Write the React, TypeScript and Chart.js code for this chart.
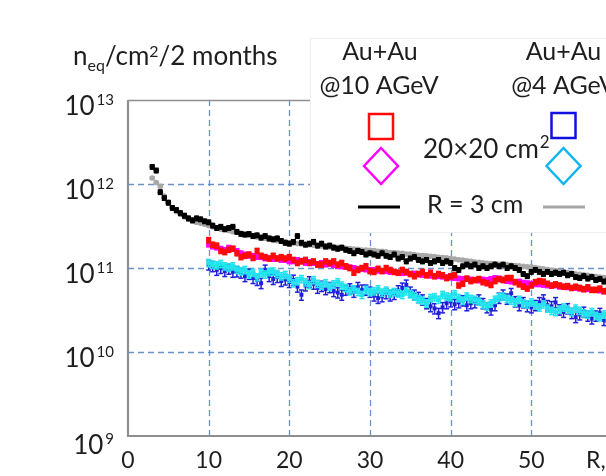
import { useEffect, useRef } from 'react';
import { Chart, registerables } from 'chart.js';

Chart.register(...registerables);

// Radius R (cm) of the 0.5 cm bins
const RADII_CORE = [
  3, 3.5, 4, 4.5, 5, 5.5, 6, 6.5, 7, 7.5,
  8, 8.5, 9, 9.5, 10, 10.5, 11, 11.5, 12, 12.5,
  13, 13.5, 14, 14.5, 15, 15.5, 16, 16.5, 17, 17.5,
  18, 18.5, 19, 19.5, 20, 20.5, 21, 21.5, 22, 22.5,
  23, 23.5, 24, 24.5, 25, 25.5, 26, 26.5, 27, 27.5,
  28, 28.5, 29, 29.5, 30, 30.5, 31, 31.5, 32, 32.5,
  33, 33.5, 34, 34.5, 35, 35.5, 36, 36.5, 37, 37.5,
  38, 38.5, 39, 39.5, 40, 40.5, 41, 41.5, 42, 42.5,
  43, 43.5, 44, 44.5, 45, 45.5, 46, 46.5, 47, 47.5,
  48, 48.5, 49, 49.5, 50, 50.5, 51, 51.5, 52, 52.5,
  53, 53.5, 54, 54.5, 55, 55.5, 56, 56.5, 57, 57.5,
  58, 58.5, 59, 59.5,
];
// 20x20 cm2 series start at R = 10 cm
const RADII_20 = RADII_CORE.slice(14);

// Fluence, in units of 1e10 n_eq/cm2/2 months
const CORE_10AGEV = [
  160, 145, 80, 68, 60, 52, 49, 45, 42, 39,
  37, 39, 38, 36, 35, 32, 30, 31, 29, 30,
  31, 27, 25.5, 25, 25.5, 24, 24.5, 23, 24, 22.5,
  22, 22.5, 21, 20, 19.5, 20.5, 24, 20, 19, 19.5,
  20.5, 18.5, 19.5, 18, 18.5, 17.5, 17, 17.5, 16.5, 16,
  15, 16, 15.5, 14.5, 15, 14.5, 14, 15, 14, 13.5,
  14.5, 13, 13.5, 12, 13, 13.5, 12.5, 12, 12.5, 11.5,
  12, 12.5, 11.5, 12, 11.5, 10, 9.5, 10.5, 11, 10.5,
  11, 10, 10.5, 10, 10.5, 11, 10.5, 11, 10, 10.5,
  10, 9.5, 8.5, 8, 9, 9.5, 9, 8.5, 9, 8.5,
  8.8, 8.5, 8.8, 8.2, 8.5, 7.8, 7.6, 8, 7.5, 7.8,
  7.2, 7.4, 6.9, 7.1,
];
const CORE_4AGEV = [
  118, 104, 94, 72, 60, 52, 47, 43.5, 40.5, 38,
  36, 35, 34, 33.2, 32, 31, 30.2, 29, 28.6, 28,
  27, 26.6, 26, 25, 24.6, 24, 23.4, 23, 22.6, 22,
  21.5, 21.2, 20.8, 20.5, 20.1, 19.8, 19.6, 19.3, 19, 18.9,
  18.7, 18.4, 18.3, 18.1, 17.8, 17.7, 17.6, 17.3, 17.2, 17,
  16.8, 16.7, 16.4, 16.4, 16.2, 16.1, 15.8, 15.8, 15.6, 15.3,
  15.3, 15.1, 15, 14.7, 14.7, 14.5, 14.2, 14.1, 14, 13.8,
  13.7, 13.4, 13.3, 13.2, 13, 12.8, 12.5, 12.4, 12.2, 12,
  11.8, 11.7, 11.5, 11.4, 11.3, 11.2, 11.1, 11, 10.9, 10.8,
  10.7, 10.6, 10.5, 10.3, 10.3, 10.1, 9.9, 9.8, 9.6, 9.4,
  9.3, 9.1, 9, 8.8, 8.7, 8.5, 8.4, 8.3, 8.2, 8,
  7.9, 7.8, 7.7, 7.6,
];
const SQ_10AGEV = [
  21.5, 19, 18.5, 16, 15.5, 16.5, 17, 15, 13.5, 14,
  14.5, 13.2, 16, 14, 13.5, 13, 14, 13, 13.5, 13,
  13.5, 12.5, 11.5, 12, 12.5, 11.5, 12, 11, 11, 12,
  11.5, 12, 11, 11.5, 10.5, 10, 8.8, 9.5, 10, 10.5,
  9.2, 9, 9.8, 9.2, 10, 9.5, 9, 8.8, 9.5, 9,
  8.5, 8, 8.5, 9, 8.2, 8.8, 8, 8.5, 8.2, 7.6,
  8, 8.3, 6.2, 6.5, 7.5, 7, 7.2, 7.4, 6.8, 6.6,
  6.3, 7, 7.4, 7.2, 7.6, 7.6, 6.8, 6.4, 6, 5.7,
  6.2, 6.8, 7, 6.9, 6.5, 6.2, 6.4, 6.2, 6, 6.1,
  5.8, 6, 5.8, 5.6, 5.9, 5.5, 5.5, 5.7, 5.3, 5.4,
];
const DIA_10AGEV = [
  19, 18, 17.5, 17, 16.5, 17.5, 17, 16, 15, 14.5,
  14, 14, 13.5, 13.5, 13, 13, 12.8, 13, 12.5, 12.5,
  12, 12, 12.5, 12.2, 11.5, 11.8, 11.5, 11.2, 11.5, 11,
  11.2, 10.8, 10.5, 10.5, 10.3, 10.2, 10, 9.8, 9.8, 9.6,
  9.5, 9.5, 9.3, 9.2, 9.2, 9, 9, 8.8, 8.7, 8.8,
  8.5, 8.6, 8.4, 8.3, 8.3, 8.1, 8, 8, 7.9, 7.8,
  7.7, 7.6, 7.5, 7.4, 7.4, 7.3, 7.2, 7.1, 7.3, 7.2,
  7.4, 7.6, 7.5, 7.3, 7, 6.9, 6.8, 6.9, 6.7, 6.6,
  6.5, 6.4, 6.4, 6.3, 6.2, 6.1, 6.2, 6, 6, 5.9,
  5.8, 5.8, 5.7, 5.6, 5.6, 5.5, 5.5, 5.4, 5.3, 5.3,
];
const SQ_4AGEV = [
  11, 10.5, 9.5, 10, 9.2, 9.8, 9, 9.1, 8.8, 8,
  8.5, 7.6, 7.2, 6.6, 9.5, 8, 7.4, 7.8, 7, 7.3,
  6.8, 7.2, 6, 4.8, 6.2, 6.9, 6.5, 5.8, 6.1, 5.6,
  5.9, 5.3, 5.1, 4.8, 5.5, 5.7, 5.2, 5.9, 5.5, 5.5,
  5.2, 4.7, 4.4, 4.6, 5, 4.7, 4.9, 5.4, 5.8, 6.3,
  5.2, 4.8, 4.5, 4.2, 3.8, 3.5, 3.3, 2.9, 3.4, 3.8,
  4, 3.7, 3.9, 4.1, 3.6, 3.8, 3.9, 4.2, 3.8, 3.4,
  3.2, 3.6, 4.4, 4.8, 4.3, 5, 4, 3.6, 3.9, 3.5,
  3.4, 3.6, 3.9, 4.2, 3.6, 3.5, 3.9, 3.2, 3, 3.3,
  2.9, 2.6, 2.8, 3, 2.7, 2.5, 2.7, 2.9, 2.4, 2.6,
];
const DIA_4AGEV = [
  11.5, 11, 10.8, 11.2, 10.5, 10.2, 10.5, 9.6, 9.2, 9.5,
  8.4, 8.8, 7.8, 8.8, 8.4, 9, 9.1, 8.5, 8, 8.3,
  7.5, 6.6, 7, 7.4, 6.8, 6.3, 7.2, 6.5, 6.2, 6.6,
  6, 6.4, 6.8, 6.2, 5.8, 5.3, 5.6, 5.2, 4.8, 5.5,
  5.2, 5.3, 5.6, 5.1, 5.4, 5, 5.2, 5, 4.8, 5.3,
  4.9, 4.6, 4.3, 4.1, 3.8, 4.4, 4.5, 4.2, 4.8, 4.6,
  4.5, 4.9, 4.4, 4.1, 4.6, 4.3, 4.2, 4, 3.7, 3.5,
  3.8, 4.2, 4.5, 4.6, 4.3, 4.1, 3.9, 4.2, 3.8, 3.7,
  3.9, 3.6, 3.4, 3.7, 3.3, 3.1, 3, 3.2, 3.4, 3.2,
  3, 3.3, 3.1, 2.9, 2.8, 3, 2.7, 2.6, 2.8, 2.6,
];
const UNIT = 1e10;

// Axis tick labels
const X_TICKS = [0, 10, 20, 30, 40, 50];
const X_GRID = [10, 20, 30, 40, 50, 60];
const Y_EXPONENTS = [9, 10, 11, 12, 13];
const Y_GRID_EXPONENTS = [10, 11, 12];
const X_TITLE = 'R, cm';

const FONT = 'Lato, "Open Sans", sans-serif';
const TEXT = '#1e1e1e';

type Series = {
  label: string;
  r: number[];
  v: number[];
  color: string;
  style: string;
  radius: number;
  err: number;
};

const SERIES: Series[] = [
  { label: 'R = 3 cm, Au+Au @10 AGeV', r: RADII_CORE, v: CORE_10AGEV, color: '#000000', style: 'circle', radius: 2.8, err: 0.06 },
  { label: 'R = 3 cm, Au+Au @4 AGeV', r: RADII_CORE, v: CORE_4AGEV, color: '#a8a8a8', style: 'circle', radius: 2.8, err: 0.03 },
  { label: '20×20 cm², Au+Au @10 AGeV (square)', r: RADII_20, v: SQ_10AGEV, color: '#ff0a0a', style: 'rect', radius: 3.6, err: 0.07 },
  { label: '20×20 cm², Au+Au @10 AGeV (diamond)', r: RADII_20, v: DIA_10AGEV, color: '#ff00ff', style: 'rect', radius: 3.6, err: 0.06 },
  { label: '20×20 cm², Au+Au @4 AGeV (diamond)', r: RADII_20, v: DIA_4AGEV, color: '#22e4ee', style: 'rect', radius: 3.4, err: 0.1 },
  { label: '20×20 cm², Au+Au @4 AGeV (square)', r: RADII_20, v: SQ_4AGEV, color: '#2020dc', style: 'rect', radius: 2.8, err: 0.14 },
];

function line(ctx: CanvasRenderingContext2D, x1: number, y1: number, x2: number, y2: number) {
  ctx.beginPath();
  ctx.moveTo(x1, y1);
  ctx.lineTo(x2, y2);
  ctx.stroke();
}

const decor = {
  id: 'decor',
  beforeDatasetsDraw(chart: any) {
    const { ctx, chartArea, scales } = chart;
    const { left, top, right, bottom } = chartArea;
    const x = scales.x;
    const y = scales.y;
    ctx.save();
    ctx.strokeStyle = 'rgba(80,128,196,0.85)';
    ctx.lineWidth = 1.3;
    ctx.setLineDash([6, 4]);
    for (const v of X_GRID) {
      const px = Math.round(x.getPixelForValue(v)) + 0.5;
      line(ctx, px, top, px, bottom);
    }
    for (const e of Y_GRID_EXPONENTS) {
      const py = Math.round(y.getPixelForValue(Math.pow(10, e))) + 0.5;
      line(ctx, left, py, right, py);
    }
    ctx.setLineDash([]);
    ctx.strokeStyle = '#8e8e8e';
    ctx.lineWidth = 1.5;
    line(ctx, left, top + 0.5, right, top + 0.5);
    ctx.lineWidth = 2.2;
    line(ctx, left, top, left, bottom + 1);
    line(ctx, left - 1, bottom, right, bottom);
    ctx.restore();
  },
  afterDatasetDraw(chart: any, args: any) {
    const { ctx, chartArea, scales } = chart;
    const ds = chart.data.datasets[args.index];
    const s = SERIES[args.index];
    const y = scales.y;
    ctx.save();
    ctx.beginPath();
    ctx.rect(chartArea.left, chartArea.top, chartArea.right - chartArea.left, chartArea.bottom - chartArea.top);
    ctx.clip();
    ctx.strokeStyle = s.color;
    ctx.lineWidth = 1.5;
    args.meta.data.forEach((el: any, j: number) => {
      const v = ds.data[j].y;
      const y1 = y.getPixelForValue(v * (1 - s.err));
      const y2 = y.getPixelForValue(v * (1 + s.err));
      line(ctx, el.x, y1, el.x, y2);
      line(ctx, el.x - 2.5, y1, el.x + 2.5, y1);
      line(ctx, el.x - 2.5, y2, el.x + 2.5, y2);
    });
    ctx.restore();
  },
  afterDraw(chart: any) {
    const { ctx, scales } = chart;
    const x = scales.x;
    const y = scales.y;
    ctx.save();
    ctx.fillStyle = TEXT;
    ctx.textBaseline = 'alphabetic';

    // x tick labels
    ctx.font = `23px ${FONT}`;
    ctx.textAlign = 'center';
    for (const v of X_TICKS) {
      ctx.fillText(String(v), x.getPixelForValue(v), 468);
    }
    ctx.textAlign = 'left';
    ctx.fillText(X_TITLE, 586, 468);

    // y tick labels 10^n
    for (const e of Y_EXPONENTS) {
      const py = y.getPixelForValue(Math.pow(10, e));
      const base = py + (e === 9 ? 18 : 15);
      ctx.font = `15px ${FONT}`;
      ctx.textAlign = 'right';
      const sup = String(e);
      const sw = ctx.measureText(sup).width;
      ctx.fillText(sup, 114, base - 10);
      ctx.font = `26px ${FONT}`;
      ctx.fillText('10', 114 - sw - 2, base);
    }

    // y axis title: n_eq/cm^2/2 months
    ctx.textAlign = 'left';
    let cx = 73;
    const by = 65;
    const piece = (t: string, size: number, dy: number) => {
      ctx.font = `${size}px ${FONT}`;
      ctx.fillText(t, cx, by + dy);
      cx += ctx.measureText(t).width;
    };
    piece('n', 26, 0);
    piece('eq', 16, 6);
    piece('/cm', 26, 0);
    piece('2', 16, -8);
    piece('/2 months', 26, 0);

    // legend box
    ctx.fillStyle = '#ffffff';
    ctx.fillRect(310, 38, 330, 194);
    ctx.strokeStyle = '#eeeeee';
    ctx.lineWidth = 1;
    ctx.strokeRect(310.5, 38.5, 330, 194);

    ctx.fillStyle = TEXT;
    ctx.textAlign = 'center';
    ctx.font = `25px ${FONT}`;
    ctx.fillText('Au+Au', 380, 60);
    ctx.fillText('@10 AGeV', 379, 94);
    ctx.fillText('Au+Au', 563.5, 60);
    ctx.fillText('@4 AGeV', 563.5, 94);

    ctx.textAlign = 'left';
    ctx.font = `26px ${FONT}`;
    ctx.fillText('20×20 cm', 423, 158);
    const w20 = ctx.measureText('20×20 cm').width;
    ctx.font = `17px ${FONT}`;
    ctx.fillText('2', 423 + w20 + 1, 148);
    ctx.font = `25px ${FONT}`;
    ctx.fillText('R = 3 cm', 427, 213);

    // legend markers
    ctx.lineWidth = 2.5;
    ctx.strokeStyle = SERIES[2].color;
    ctx.strokeRect(369, 114, 24, 25);
    ctx.strokeStyle = '#1010e0';
    ctx.strokeRect(551.5, 113, 24, 25);
    const diamond = (cxx: number, cyy: number, color: string) => {
      ctx.strokeStyle = color;
      ctx.beginPath();
      ctx.moveTo(cxx, cyy - 18);
      ctx.lineTo(cxx + 17, cyy);
      ctx.lineTo(cxx, cyy + 18);
      ctx.lineTo(cxx - 17, cyy);
      ctx.closePath();
      ctx.stroke();
    };
    diamond(381, 166, '#ff00ff');
    diamond(563.5, 166, '#0fb4ef');
    ctx.lineWidth = 3;
    ctx.strokeStyle = '#000000';
    line(ctx, 358, 207, 400, 207);
    ctx.strokeStyle = '#a6a6a6';
    line(ctx, 543, 207, 585, 207);
    ctx.restore();
  },
};

export default function App() {
  const ref = useRef<HTMLCanvasElement | null>(null);
  useEffect(() => {
    const canvas = ref.current;
    if (!canvas) return;
    const chart = new Chart(canvas, {
      type: 'scatter',
      data: {
        datasets: SERIES.map((s) => ({
          label: s.label,
          data: s.r.map((r, i) => ({ x: r, y: s.v[i] * UNIT })).filter((p) => p.y > 0),
          showLine: false,
          pointStyle: s.style as any,
          pointRadius: s.radius,
          pointBackgroundColor: s.color,
          pointBorderColor: s.color,
          pointBorderWidth: 0,
          pointHoverRadius: s.radius,
        })),
      },
      options: {
        responsive: false,
        animation: false,
        devicePixelRatio: 1,
        events: [],
        layout: { padding: { top: 100, right: 8, left: 0, bottom: 0 } },
        plugins: { legend: { display: false }, tooltip: { enabled: false } },
        scales: {
          x: {
            type: 'linear',
            min: 0,
            max: 60,
            ticks: { display: false },
            grid: { display: false },
            border: { display: false },
            afterFit: (s: any) => {
              s.height = 40;
            },
          },
          y: {
            type: 'logarithmic',
            min: 1e9,
            max: 1e13,
            ticks: { display: false },
            grid: { display: false },
            border: { display: false },
            afterFit: (s: any) => {
              s.width = 128;
            },
          },
        },
      },
      plugins: [decor],
    });
    const fonts: any = (document as any).fonts;
    if (fonts && fonts.load) {
      Promise.all([fonts.load(`26px Lato`), fonts.load(`16px Lato`)]).then(() => {
        try {
          chart.draw();
        } catch (e) {
          /* ignore */
        }
      });
    }
    return () => chart.destroy();
  }, []);
  return (
    <div style={{ position: 'absolute', left: 0, top: 0, width: 606, height: 476, overflow: 'hidden', background: '#fff' }}>
      <canvas ref={ref} width={620} height={476} style={{ display: 'block', width: 620, height: 476 }} />
    </div>
  );
}
